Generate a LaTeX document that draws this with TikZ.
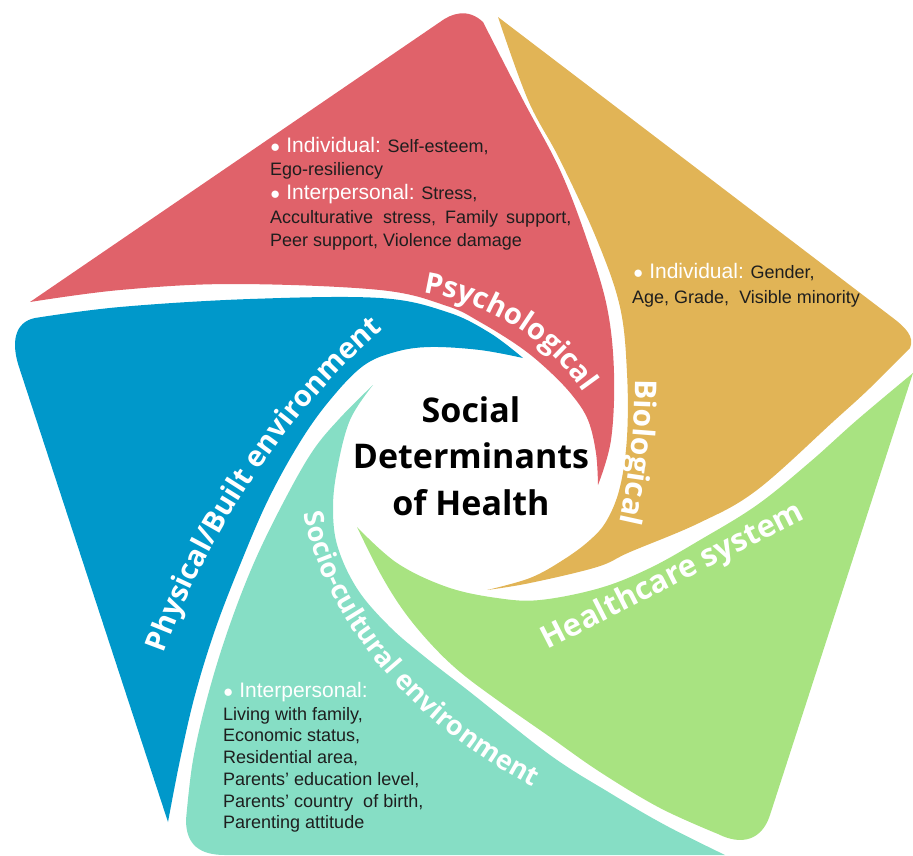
\documentclass[tikz,border=0pt]{standalone}
\usepackage{fontspec}
\setmainfont{Liberation Sans}
\newfontfamily\labfont{Open Sans}
\usetikzlibrary{decorations.text}
\definecolor{cred}{HTML}{E0626A}
\definecolor{cgold}{HTML}{E1B456}
\definecolor{cgreen}{HTML}{A8E381}
\definecolor{cteal}{HTML}{86DEC5}
\definecolor{cblue}{HTML}{0098CA}
\definecolor{txt}{HTML}{1E1E1E}
\begin{document}
\begin{tikzpicture}[x=1pt,y=-1pt,
  line/.style={text=txt, font=\fontsize{18}{18}\selectfont, inner sep=0pt, anchor=base west},
  ttl/.style={text=black, font=\labfont\bfseries\fontsize{34}{34}\selectfont, inner sep=0pt, anchor=base},
  lab/.style={decorate, decoration={text along path, text align=center, text color=white, text={#1}}}]
\useasboundingbox (0,0) rectangle (913,855);
\newcommand\hd[1]{{\color{white}\fontsize{21}{21}\selectfont{\fontsize{17}{17}\selectfont ●} #1}}

% blades
\fill[cred] (30,302) -- (440,22) .. controls (452,13) and (468,8) .. (483,22)
  -- plot[smooth,tension=0.6] coordinates {(483,22) (523,100) (560,170) (587,240) (607,307) (614,373) (611,440) (598,485)}
  -- plot[smooth,tension=0.6] coordinates {(598,485) (596,453) (588,420) (572,395) (548,370) (520,347) (480,322) (447,306) (380,290) (233,284) (120,290) (30,302)}
  -- cycle;
\fill[cgold] (498,17) -- (893,318) .. controls (905,327) and (915,337) .. (910,348)
  -- plot[smooth,tension=0.6] coordinates {(910,348) (870,388) (835,420) (757,490) (699,523) (630,552) (597,567) (530,583) (487,590)}
  -- plot[smooth,tension=0.6] coordinates {(487,590) (530,578) (563,560) (590,540) (607,520) (620,487) (627,437) (627,373) (620,307) (597,240) (560,160) (528,100) (498,17)}
  -- cycle;
\fill[cgreen] (913,373) -- (770,815) .. controls (762,840) and (742,846) .. (718,834)
  -- plot[smooth,tension=0.6] coordinates {(718,834) (660,808) (600,772) (550,737) (500,702) (460,672) (430,643) (403,610) (380,573) (357,527)}
  -- plot[smooth,tension=0.6] coordinates {(357,527) (397,563) (447,587) (497,598) (540,600) (600,588) (650,568) (700,540) (757,505) (810,462) (857,420) (913,373)}
  -- cycle;
\fill[cteal] (725,855) -- (225,855) .. controls (200,855) and (186,845) .. (186,820)
  -- plot[smooth,tension=0.6] coordinates {(186,820) (193,760) (208,695) (228,630) (253,565) (282,505) (312,452) (340,418) (373,385)}
  -- plot[smooth,tension=0.6] coordinates {(373,385) (350,420) (337,470) (333,510) (338,548) (358,590) (390,627) (425,657) (470,692) (550,755) (610,793) (665,825) (725,855)}
  -- cycle;
\fill[cblue] (168,822) -- (20,370) .. controls (10,342) and (15,322) .. (35,318)
  -- plot[smooth,tension=0.6] coordinates {(35,318) (120,307) (250,299) (380,298) (447,312) (490,333) (523,358)}
  -- plot[smooth,tension=0.6] coordinates {(523,358) (480,350) (430,347) (395,352) (363,366) (330,400) (300,442) (268,500) (240,565) (215,630) (195,695) (180,760) (168,822)}
  -- cycle;

% curved labels
\path[lab={|\labfont\bfseries\fontsize{29}{29}\selectfont|Psychological}] (405,290) .. controls (490,298) and (555,343) .. (594,408);
\path[lab={|\labfont\bfseries\fontsize{30}{30}\selectfont|Biological}] (634,336) .. controls (638,420) and (630,492) .. (608,565);
\path[lab={|\labfont\bfseries\fontsize{27}{27}\selectfont|Socio-cultural environment}] (300,495) .. controls (318,620) and (420,735) .. (550,795);
\path[lab={|\labfont\bfseries\fontsize{29}{29}\selectfont|Physical/Built environment}] (155,680) .. controls (198,545) and (290,400) .. (405,312);
\node[rotate=27, text=white, font=\labfont\bfseries\fontsize{31}{31}\selectfont, inner sep=0pt] (hc) at (673,577) {Healthcare system};

% title
\node[ttl] (t1) at (471,422) {Social};
\node[ttl] (t2) at (471,468) {Determinants};
\node[ttl] (t3) at (471,515) {of Health};

% red block
\node[line] (r1) at (270,152) {\hd{Individual:} Self-esteem,};
\node[line] (r2) at (270,175) {Ego-resiliency};
\node[line] (r3) at (270,199) {\hd{Interpersonal:} Stress,};
\node[line] (r4) at (270,223) {Acculturative\hspace{10pt}stress,\hspace{9pt}Family\hspace{8pt}support,};
\node[line] (r5) at (270,246) {Peer support, Violence damage};
% gold block
\node[line] (g1) at (633,278) {\hd{Individual:} Gender,};
\node[line] (g2) at (632,303) {Age, Grade,\ \ Visible minority};
% teal block
\node[line] (c1) at (223,697) {\hd{Interpersonal:}};
\node[line] (c2) at (223,720) {Living with family,};
\node[line] (c3) at (223,741) {Economic status,};
\node[line] (c4) at (223,763) {Residential area,};
\node[line] (c5) at (223,785) {Parents’ education level,};
\node[line] (c6) at (223,807) {Parents’ country\ \ of birth,};
\node[line] (c7) at (223,828) {Parenting attitude};
\end{tikzpicture}
\end{document}
